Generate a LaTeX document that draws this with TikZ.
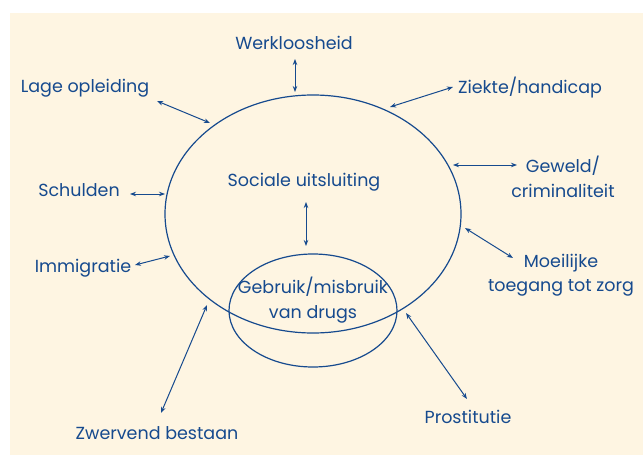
\documentclass[tikz,border=0pt]{standalone}
\usepackage{fontspec}
\setmainfont{Poppins}
\usetikzlibrary{shapes.geometric,arrows.meta}
\definecolor{creamBg}{RGB}{254,245,226}
\definecolor{navyLn}{RGB}{22,74,142}
\begin{document}
\begin{tikzpicture}[x=1pt,y=-1pt,
    lblT/.style={font=\fontsize{17.5}{24.5}\selectfont,text=navyLn,inner sep=0pt,align=center},
    biArr/.style={<->,>={Stealth[length=6pt,width=4.5pt]},navyLn,line width=1pt},
    ringE/.style={draw=navyLn,line width=1.2pt,ellipse,inner sep=0pt},
]
\useasboundingbox (0,0) rectangle (643,455);
\fill[creamBg] (10,13) rectangle (643,455);
% Ellipses
\node[ringE,minimum width=296,minimum height=238] (big) at (313,214) {};
\node[ringE,minimum width=168,minimum height=113] (drug) at (313,310.5) {};
% Labels
\node[lblT] (werk) at (294,43) {Werkloosheid};
\node[lblT] (lage) at (85,88) {Lage opleiding};
\node[lblT] (ziek) at (530,88) {Ziekte/handicap};
\node[lblT] (schuld) at (79,190) {Schulden};
\node[lblT] (immi) at (83,268) {Immigratie};
\node[lblT] (soc) at (304,182) {Sociale uitsluiting};
\node[lblT] (drugT) at (313,300) {Gebruik/misbruik\\van drugs};
\node[lblT] (gew) at (563,177) {Geweld/\\criminaliteit};
\node[lblT] (moei) at (561,275) {Moeilijke\\toegang tot zorg};
\node[lblT] (zwerf) at (157,433) {Zwervend bestaan};
\node[lblT] (prost) at (468,417) {Prostitutie};
% Arrow ends
\coordinate (werkA) at (295,59);   \coordinate (werkB) at (295,92);
\coordinate (lageA) at (157,101);  \coordinate (lageB) at (210,123);
\coordinate (ziekA) at (453,87);   \coordinate (ziekB) at (390,107);
\coordinate (schuldA) at (130,194);\coordinate (schuldB) at (165,194);
\coordinate (immiA) at (135,265);  \coordinate (immiB) at (170,256);
\coordinate (gewA) at (517,165);   \coordinate (gewB) at (453,165);
\coordinate (moeiA) at (513,258);  \coordinate (moeiB) at (465,228);
\coordinate (zwerfA) at (161,413); \coordinate (zwerfB) at (207,305);
\coordinate (prostA) at (467,399); \coordinate (prostB) at (406,313);
\coordinate (socA) at (306,202);   \coordinate (socB) at (306,246);
\foreach \n in {werk,lage,ziek,schuld,immi,gew,moei,zwerf,prost,soc}
  \draw[biArr] (\n A) -- (\n B);
\end{tikzpicture}
\end{document}
